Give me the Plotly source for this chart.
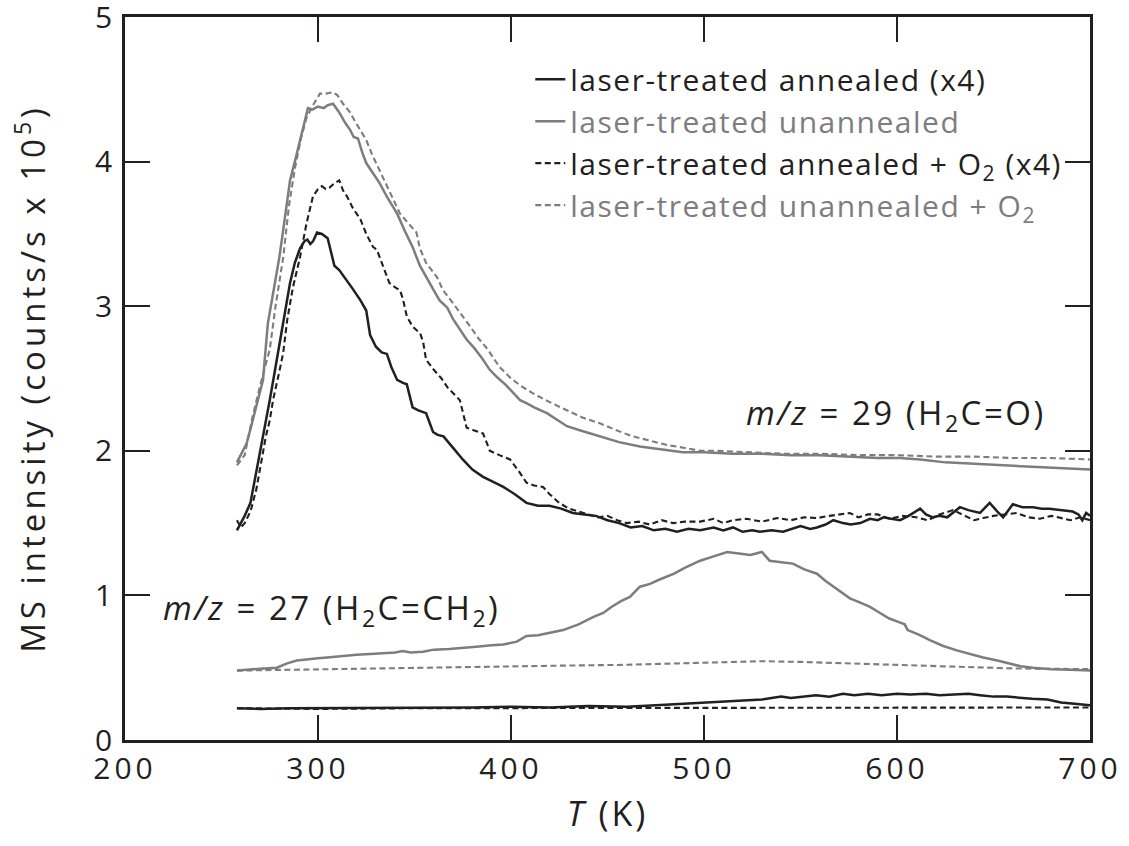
import plotly.graph_objects as go

# ---------------- data ----------------
# m/z = 29, laser-treated annealed (x4) - black solid
T_bs29 = [258, 260, 262, 265, 268, 270, 273, 275, 278, 280, 283, 285.5, 288, 290.7, 293, 294.5, 296, 297.5,
          299.5, 302, 305, 307, 308.5, 311, 315, 318, 322, 325, 327, 330, 333, 335.7, 338, 341, 344, 346, 349,
          352, 356, 359.6, 362, 365, 370, 375, 380, 385.5, 390, 396, 402, 408, 414, 420, 426, 432, 438, 444,
          450, 456, 462, 468, 474, 480, 486, 492, 498, 505, 510, 515, 520, 525, 529, 535, 541, 545, 550, 555,
          558.5, 563, 567, 572, 576, 581, 586, 590, 593, 597, 601.6, 606, 612, 615, 618.6, 622, 626, 632.6,
          637, 643, 648, 652, 655, 660, 665, 670.5, 675, 679, 685, 691, 694, 696, 698, 700]
I_bs29 = [1.45, 1.50, 1.55, 1.64, 1.85, 2.00, 2.20, 2.35, 2.58, 2.74, 2.95, 3.16, 3.30, 3.40, 3.45, 3.46, 3.43, 3.45,
          3.51, 3.50, 3.47, 3.35, 3.28, 3.25, 3.18, 3.12, 3.04, 2.97, 2.80, 2.72, 2.68, 2.67, 2.58, 2.49, 2.47, 2.46, 2.30,
          2.28, 2.26, 2.13, 2.11, 2.10, 2.02, 1.94, 1.87, 1.82, 1.79, 1.75, 1.70, 1.64, 1.62, 1.62, 1.60, 1.57, 1.56, 1.55,
          1.52, 1.50, 1.47, 1.48, 1.45, 1.46, 1.44, 1.46, 1.45, 1.47, 1.45, 1.47, 1.44, 1.45, 1.44, 1.45, 1.44, 1.46, 1.48, 1.46,
          1.47, 1.49, 1.52, 1.50, 1.49, 1.50, 1.53, 1.52, 1.54, 1.53, 1.52, 1.55, 1.60, 1.56, 1.54, 1.55, 1.54, 1.61,
          1.59, 1.57, 1.64, 1.58, 1.54, 1.63, 1.61, 1.61, 1.60, 1.60, 1.59, 1.58, 1.56, 1.52, 1.57, 1.55]

# m/z = 29, laser-treated unannealed - gray solid
T_gs29 = [258, 259.6, 263, 265, 268, 270, 271.5, 274, 276.7, 279, 280, 282, 285.5, 288, 290.7, 293, 294.8, 297,
          300, 303, 305, 307.8, 311, 314, 316.6, 318.5, 320.7, 323, 325, 328, 332, 336, 341, 345, 349, 352.8, 356,
          360, 363, 367, 370, 373, 377, 381, 385, 389, 392.7, 397, 401, 404.7, 408, 412, 418.6, 424, 429, 436, 446,
          456, 466.8, 478, 489, 500, 515, 530, 545, 560, 575, 590, 601.6, 612, 625, 640, 655, 670, 685, 700]
I_gs29 = [1.92, 1.96, 2.05, 2.15, 2.30, 2.42, 2.49, 2.88, 3.09, 3.25, 3.34, 3.53, 3.87, 4.00, 4.15, 4.28, 4.37, 4.36,
          4.38, 4.37, 4.39, 4.40, 4.34, 4.27, 4.22, 4.17, 4.16, 4.06, 3.99, 3.93, 3.85, 3.75, 3.64, 3.52, 3.41, 3.28, 3.20,
          3.11, 3.04, 2.99, 2.91, 2.85, 2.77, 2.71, 2.64, 2.56, 2.51, 2.46, 2.40, 2.35, 2.33, 2.30, 2.26, 2.21, 2.17, 2.14, 2.10,
          2.06, 2.03, 2.01, 1.99, 1.99, 1.98, 1.98, 1.97, 1.97, 1.96, 1.95, 1.95, 1.94, 1.92, 1.91, 1.90, 1.89, 1.88, 1.87]

# m/z = 29, laser-treated annealed + O2 (x4) - black dashed
T_bd29 = [258, 260, 262, 265, 268, 271, 273, 275, 276.7, 280, 282, 284, 287, 290.7, 294, 297.4, 300, 302, 304, 306,
          308.5, 311, 313, 315, 318, 320, 322, 325, 328.5, 330.5, 333, 335.7, 337, 340, 342.5, 344, 346, 349, 353,
          354.5, 356, 360, 364, 367, 370, 373.5, 375, 377, 381, 385.5, 387, 389, 394, 399.5, 404, 408, 412, 416.6,
          420, 425, 430, 435, 440, 445, 450, 455, 460, 466, 472, 478, 484, 490, 498, 505, 510, 515, 522, 530, 538,
          545, 552, 558.5, 565, 570, 575.6, 580, 585, 590, 596, 603, 610, 616, 622, 629, 635, 640, 644.6, 650, 656,
          662, 668, 674, 680, 684, 690, 695, 700]
I_bd29 = [1.52, 1.47, 1.50, 1.58, 1.73, 1.95, 2.10, 2.21, 2.35, 2.55, 2.68, 2.90, 3.13, 3.34, 3.57, 3.76, 3.81, 3.83, 3.81, 3.82,
          3.85, 3.87, 3.80, 3.76, 3.68, 3.64, 3.60, 3.50, 3.41, 3.39, 3.30, 3.20, 3.16, 3.13, 3.11, 3.05, 2.93, 2.86, 2.81,
          2.75, 2.63, 2.56, 2.50, 2.44, 2.40, 2.35, 2.27, 2.16, 2.14, 2.12, 2.07, 2.00, 1.97, 1.94, 1.86, 1.78, 1.76, 1.75,
          1.70, 1.64, 1.60, 1.58, 1.56, 1.54, 1.55, 1.52, 1.50, 1.51, 1.49, 1.52, 1.50, 1.51, 1.51, 1.53, 1.50, 1.52, 1.53, 1.51, 1.535,
          1.52, 1.54, 1.535, 1.55, 1.56, 1.57, 1.54, 1.56, 1.56, 1.53, 1.55, 1.54, 1.52, 1.56, 1.59, 1.55, 1.52, 1.535, 1.55, 1.56,
          1.57, 1.54, 1.53, 1.55, 1.54, 1.52, 1.54, 1.52]

# m/z = 29, laser-treated unannealed + O2 - gray dashed
T_gd29 = [258, 262, 266, 270, 275, 278, 282, 285, 288, 291, 294, 297, 301, 304, 307.8, 310, 313, 316.6, 320, 325,
          328, 332, 337, 342.5, 347, 351, 352.8, 356, 361.7, 364.8, 370, 374, 378.8, 383, 388, 394, 400, 405, 411,
          418, 424, 429, 437, 446, 455, 463, 472, 480.8, 490, 498, 506.7, 520, 540, 560, 580, 600, 620, 640, 660,
          680, 700]
I_gd29 = [1.90, 1.97, 2.23, 2.45, 2.70, 3.00, 3.34, 3.70, 3.95, 4.15, 4.30, 4.38, 4.47, 4.47, 4.48, 4.46, 4.40, 4.34, 4.26, 4.15,
          4.05, 3.94, 3.80, 3.64, 3.57, 3.51, 3.40, 3.30, 3.20, 3.11, 3.02, 2.95, 2.86, 2.78, 2.70, 2.58, 2.50, 2.45, 2.40,
          2.35, 2.31, 2.28, 2.23, 2.19, 2.14, 2.10, 2.07, 2.04, 2.02, 2.00, 2.00, 1.99, 1.98, 1.98, 1.97, 1.97, 1.96, 1.96, 1.95,
          1.95, 1.94]

# m/z = 27, laser-treated unannealed - gray solid
T_gs27 = [258, 265, 272, 278.7, 284, 289, 295, 300, 304.7, 312, 320, 327, 333.7, 340, 344, 348, 354.4, 360, 368, 375,
          382, 390, 396, 403, 408, 414, 420, 427, 435, 442.5, 448, 452, 457, 461.6, 466.8, 472, 477, 484.5, 490, 498,
          505, 512, 518, 524, 530, 534, 540, 546, 552, 558.5, 563, 567, 571, 575.6, 581, 586, 591, 596, 600, 604,
          605.5, 611, 617, 624, 631, 638, 644.6, 652, 658.5, 664, 670.5, 680, 690, 700]
I_gs27 = [0.48, 0.49, 0.495, 0.50, 0.53, 0.55, 0.56, 0.565, 0.57, 0.58, 0.59, 0.595, 0.60, 0.605, 0.615, 0.605, 0.61, 0.625, 0.63, 0.635,
          0.645, 0.655, 0.66, 0.68, 0.72, 0.725, 0.74, 0.76, 0.80, 0.85, 0.88, 0.92, 0.96, 0.99, 1.06, 1.08, 1.11, 1.15, 1.19, 1.24,
          1.27, 1.30, 1.29, 1.28, 1.30, 1.24, 1.23, 1.22, 1.18, 1.15, 1.10, 1.06, 1.02, 0.98, 0.95, 0.92, 0.88, 0.84, 0.82, 0.80,
          0.76, 0.73, 0.69, 0.65, 0.62, 0.595, 0.57, 0.55, 0.53, 0.51, 0.50, 0.49, 0.485, 0.48]

# m/z = 27, laser-treated unannealed + O2 - gray dashed
T_gd27 = [258, 280, 300, 330, 360, 400, 430, 460, 490, 510, 530, 550, 575, 600, 630, 660, 700]
I_gd27 = [0.48, 0.485, 0.49, 0.495, 0.50, 0.51, 0.515, 0.52, 0.53, 0.54, 0.545, 0.54, 0.53, 0.52, 0.505, 0.495, 0.49]

# m/z = 27, laser-treated annealed (x4) - black solid
T_bs27 = [258, 270, 285, 300, 320, 340, 360, 380, 400, 420, 440, 460, 475, 490, 505, 520, 530, 535, 540, 545, 552,
          558, 565, 572, 578, 585, 592, 600, 607, 615, 622, 630, 637, 643, 650, 657, 664, 670, 678, 685, 692, 700]
I_bs27 = [0.22, 0.215, 0.22, 0.22, 0.225, 0.22, 0.225, 0.225, 0.23, 0.225, 0.235, 0.23, 0.24, 0.25, 0.26, 0.27, 0.28, 0.29, 0.30, 0.29, 0.30,
          0.31, 0.30, 0.32, 0.31, 0.32, 0.31, 0.32, 0.315, 0.32, 0.31, 0.315, 0.32, 0.31, 0.30, 0.30, 0.29, 0.285, 0.28, 0.26, 0.25, 0.24]

# m/z = 27, laser-treated annealed + O2 (x4) - black dashed
T_bd27 = [258, 300, 350, 400, 450, 500, 550, 600, 650, 700]
I_bd27 = [0.22, 0.215, 0.22, 0.22, 0.22, 0.225, 0.22, 0.225, 0.225, 0.225]

x_ticks = [200, 300, 400, 500, 600, 700]
y_ticks = [0, 1, 2, 3, 4, 5]

BLACK = "#231f20"
GRAY = "#7d7d7f"
FONT = "Open Sans"
LS = "letter-spacing:1.5px"
TLS = "letter-spacing:4px"

names = [
    f"<span style='{LS}'>laser-treated annealed (x4)</span>",
    f"<span style='color:{GRAY};{LS}'>laser-treated unannealed</span>",
    f"<span style='{LS}'>laser-treated annealed + O<sub>2</sub> (x4)</span>",
    f"<span style='color:{GRAY};{LS}'>laser-treated unannealed + O<sub>2</sub></span>",
]

fig = go.Figure()
LW = 2.5
DASH = "6px,3.5px"

# legend traces (m/z 29)
fig.add_trace(go.Scatter(x=T_bs29, y=I_bs29, mode="lines", name=names[0],
                         line=dict(color=BLACK, width=LW)))
fig.add_trace(go.Scatter(x=T_gs29, y=I_gs29, mode="lines", name=names[1],
                         line=dict(color=GRAY, width=LW)))
fig.add_trace(go.Scatter(x=T_bd29, y=I_bd29, mode="lines", name=names[2],
                         line=dict(color=BLACK, width=LW - 0.4, dash=DASH)))
fig.add_trace(go.Scatter(x=T_gd29, y=I_gd29, mode="lines", name=names[3],
                         line=dict(color=GRAY, width=LW - 0.4, dash=DASH)))
# m/z 27
fig.add_trace(go.Scatter(x=T_gs27, y=I_gs27, mode="lines", showlegend=False,
                         line=dict(color=GRAY, width=LW)))
fig.add_trace(go.Scatter(x=T_gd27, y=I_gd27, mode="lines", showlegend=False,
                         line=dict(color=GRAY, width=LW - 0.4, dash=DASH)))
fig.add_trace(go.Scatter(x=T_bs27, y=I_bs27, mode="lines", showlegend=False,
                         line=dict(color=BLACK, width=LW)))
fig.add_trace(go.Scatter(x=T_bd27, y=I_bd27, mode="lines", showlegend=False,
                         line=dict(color=BLACK, width=LW - 0.4, dash=DASH)))

axis_common = dict(
    showgrid=False, zeroline=False, showline=True, linecolor=BLACK, linewidth=2.5,
    mirror="ticks", ticks="inside", ticklen=25, tickwidth=2, tickcolor=BLACK,
    tickfont=dict(family=FONT, size=30, color=BLACK), ticklabeloverflow="allow",
    automargin=False,
)

fig.update_layout(
    width=1129, height=846,
    margin=dict(l=125, r=39, t=17, b=106, autoexpand=False),
    paper_bgcolor="white", plot_bgcolor="white",
    font=dict(family=FONT, color=BLACK),
    xaxis=dict(range=[200, 700], tickvals=x_ticks,
               ticktext=[f"<span style='{TLS}'>{v}</span>" for v in x_ticks],
               title=dict(text="<span style='letter-spacing:3px'><i>T</i> (K)</span>",
                          font=dict(family=FONT, size=34, color=BLACK), standoff=16),
               **axis_common),
    yaxis=dict(range=[0, 5], tickvals=y_ticks,
               ticktext=[f"<span style='{TLS}'>{v}</span>" for v in y_ticks],
               title=dict(text="<span style='letter-spacing:4px'>MS intensity (counts/s x 10<sup>5</sup>)</span>",
                          font=dict(family=FONT, size=33, color=BLACK), standoff=40),
               **axis_common),
    legend=dict(x=0.42, y=0.95, xanchor="left", yanchor="top",
                font=dict(family=FONT, size=30, color=BLACK),
                bgcolor="rgba(0,0,0,0)", itemwidth=30, tracegroupgap=0),
    showlegend=True,
)

ALS = "letter-spacing:2.5px"
fig.add_annotation(x=1.0, y=2.25, xref="paper", yref="y", xanchor="right", yanchor="middle",
                   text=f"<span style='{ALS}'><i>m/z</i> = 29 (H<sub>2</sub>C=O)</span>", showarrow=False, xshift=-42,
                   font=dict(family=FONT, size=33, color=BLACK))
fig.add_annotation(x=0.0, y=0.9, xref="paper", yref="y", xanchor="left", yanchor="middle",
                   text=f"<span style='{ALS}'><i>m/z</i> = 27 (H<sub>2</sub>C=CH<sub>2</sub>)</span>", showarrow=False, xshift=36,
                   font=dict(family=FONT, size=33, color=BLACK))

fig.write_html("out.html")
